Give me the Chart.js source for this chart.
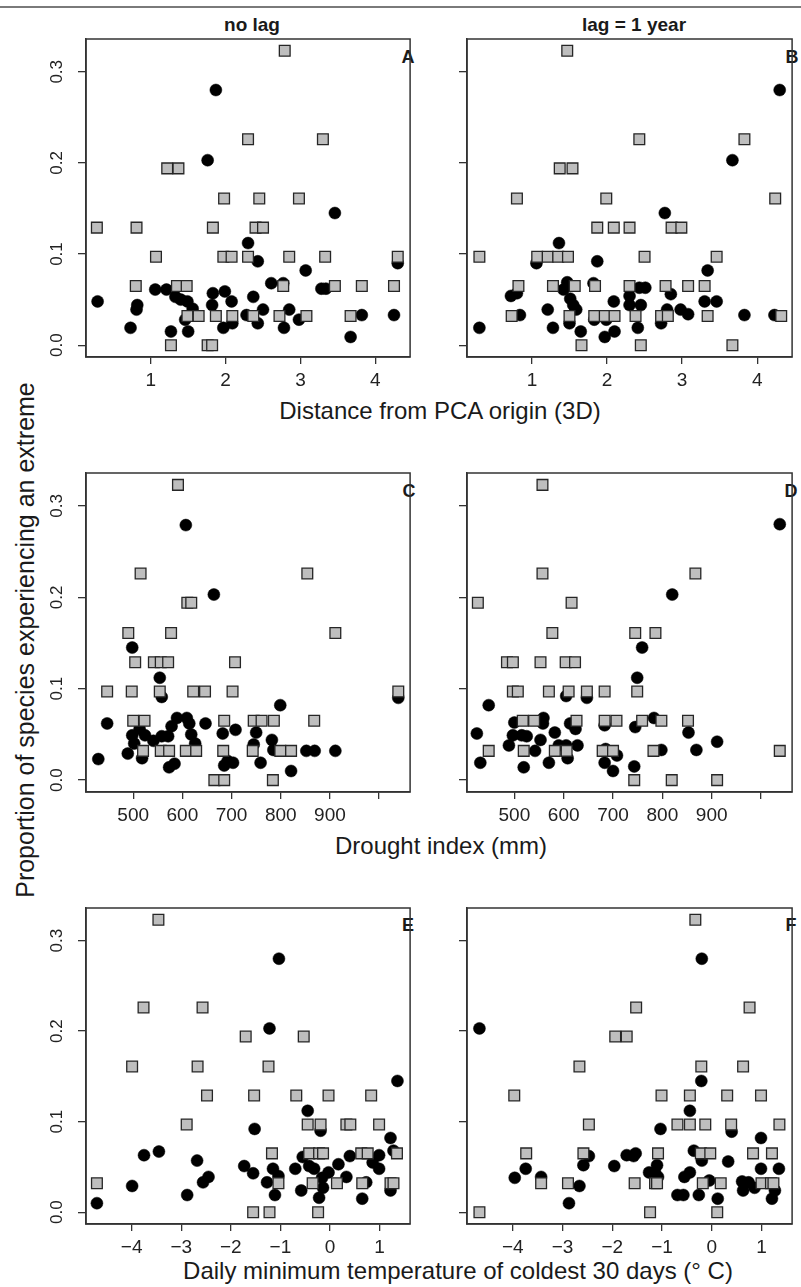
<!DOCTYPE html>
<html>
<head>
<meta charset="utf-8">
<script src="https://cdn.jsdelivr.net/npm/chart.js@4.4.0/dist/chart.umd.min.js"></script>
<style>
  body { margin: 0; background: #fff; width: 801px; height: 1287px; position: relative; overflow: hidden;
         font-family: "Liberation Sans", Arial, sans-serif; color: #1a1a1a; }
  canvas { position: absolute; }
  .t { position: absolute; white-space: nowrap; transform: translate(-50%, -50%); line-height: 1; }
  .b { font-weight: bold; }
  #topline { position: absolute; left: 0; top: 6px; width: 801px; height: 2px; background: #7a7a7a; }
</style>
</head>
<body>
<div id="topline"></div>
<div class="t b" style="left:252px;top:24px;font-size:19px">no lag</div>
<div class="t b" style="left:634px;top:24px;font-size:19px">lag = 1 year</div>
<div class="t b" style="left:408px;top:57px;font-size:18px">A</div>
<div class="t b" style="left:792px;top:57px;font-size:18px">B</div>
<div class="t b" style="left:409px;top:491px;font-size:18px">C</div>
<div class="t b" style="left:791px;top:491px;font-size:18px">D</div>
<div class="t b" style="left:408px;top:925px;font-size:18px">E</div>
<div class="t b" style="left:791px;top:925px;font-size:18px">F</div>
<div class="t" style="left:440px;top:411px;font-size:24px">Distance from PCA origin (3D)</div>
<div class="t" style="left:441px;top:846px;font-size:24px">Drought index (mm)</div>
<div class="t" style="left:458px;top:1271px;font-size:24px">Daily minimum temperature of coldest 30 days (° C)</div>
<div class="t" style="left:25px;top:640px;font-size:25px;transform:translate(-50%,-50%) rotate(-90deg)">Proportion of species experiencing an extreme</div>

<script>
// ---- data: squares (grey) and circles (black) ----
const yTicks = [0, 0.1, 0.2, 0.3];

// A: distance from PCA origin, no lag
const aSqX = [2.79, 2.30, 3.30, 1.22, 1.37, 1.98, 2.45, 2.98, 0.28, 0.81, 1.83, 2.40, 2.50,
  1.07, 1.97, 2.08, 2.30, 2.85, 3.33, 4.30, 0.80, 1.35, 1.48, 2.77, 3.46, 3.82, 4.25,
  1.49, 1.64, 1.87, 2.09, 2.37, 2.72, 3.08, 3.67, 1.27, 1.76, 1.82];
const aSqY = [0.323, 0.226, 0.226, 0.194, 0.194, 0.161, 0.161, 0.161, 0.129, 0.129, 0.129, 0.129, 0.129,
  0.097, 0.097, 0.097, 0.097, 0.097, 0.097, 0.097, 0.065, 0.065, 0.065, 0.065, 0.065, 0.065, 0.065,
  0.032, 0.032, 0.032, 0.032, 0.032, 0.032, 0.032, 0.032, 0, 0, 0];
const aCiX = [1.87, 1.76, 3.46, 2.30, 2.43, 4.30, 3.07, 2.61, 2.77, 1.06, 1.21, 3.28, 3.34, 1.33, 1.40,
  1.49, 1.56, 0.29, 0.82, 0.81, 1.83, 1.82, 1.99, 2.08, 2.37, 2.50, 2.85, 0.73, 1.27, 1.50, 1.46,
  1.97, 2.09, 2.28, 2.43, 2.78, 2.98, 3.67, 3.82, 4.25];
const aCiY = [0.280, 0.203, 0.145, 0.112, 0.092, 0.090, 0.082, 0.068, 0.068, 0.061, 0.061, 0.062, 0.062, 0.053, 0.050,
  0.048, 0.040, 0.048, 0.044, 0.039, 0.057, 0.044, 0.059, 0.048, 0.053, 0.039, 0.039, 0.019, 0.015, 0.015, 0.028,
  0.019, 0.024, 0.033, 0.024, 0.019, 0.028, 0.009, 0.033, 0.033];

// B: distance from PCA origin, lag 1 year
const bSqX = [1.47, 2.43, 3.83, 1.37, 1.54, 0.80, 1.99, 4.24, 1.87, 2.09, 2.30, 2.86, 2.99,
  0.30, 1.07, 1.21, 1.35, 1.48, 2.50, 3.46, 0.82, 1.28, 1.57, 1.84, 2.30, 2.78, 3.08, 3.30,
  0.73, 1.50, 1.83, 1.97, 2.10, 2.38, 2.72, 2.81, 3.34, 4.32, 1.66, 2.45, 3.67];
const bSqY = [0.323, 0.226, 0.226, 0.194, 0.194, 0.161, 0.161, 0.161, 0.129, 0.129, 0.129, 0.129, 0.129,
  0.097, 0.097, 0.097, 0.097, 0.097, 0.097, 0.097, 0.065, 0.065, 0.065, 0.065, 0.065, 0.065, 0.065, 0.065,
  0.032, 0.032, 0.032, 0.032, 0.032, 0.032, 0.032, 0.032, 0.032, 0.032, 0, 0, 0];
const bCiX = [4.30, 3.67, 2.77, 1.36, 1.87, 1.06, 3.34, 1.47, 1.82, 2.43, 2.51, 1.42, 0.72, 0.80, 2.85,
  1.51, 1.55, 2.30, 2.09, 3.30, 3.46, 2.30, 2.45, 1.21, 1.59, 2.80, 2.98, 3.08, 0.84, 3.83, 4.23,
  0.30, 1.28, 1.50, 1.83, 1.99, 2.41, 2.72, 1.65, 1.97, 2.10];
const bCiY = [0.280, 0.203, 0.145, 0.112, 0.092, 0.090, 0.082, 0.069, 0.068, 0.063, 0.063, 0.061, 0.054, 0.057, 0.056,
  0.051, 0.044, 0.054, 0.048, 0.048, 0.048, 0.044, 0.044, 0.039, 0.039, 0.039, 0.039, 0.034, 0.033, 0.033, 0.033,
  0.019, 0.019, 0.024, 0.028, 0.028, 0.019, 0.024, 0.015, 0.009, 0.015];

// C: drought index, no lag
const cSqX = [591, 515, 854, 610, 618, 490, 577, 911, 504, 542, 556, 571, 707,
  447, 497, 554, 622, 646, 702, 1039, 500, 523, 685, 745, 761, 786, 868,
  520, 556, 573, 607, 628, 683, 743, 799, 821, 665, 685, 784];
const cSqY = [0.323, 0.226, 0.226, 0.194, 0.194, 0.161, 0.161, 0.161, 0.129, 0.129, 0.129, 0.129, 0.129,
  0.097, 0.097, 0.097, 0.097, 0.097, 0.097, 0.097, 0.065, 0.065, 0.065, 0.065, 0.065, 0.065, 0.065,
  0.032, 0.032, 0.032, 0.032, 0.032, 0.032, 0.032, 0.032, 0.032, 0, 0, 0];
const cCiX = [607, 664, 498, 554, 558, 1039, 799, 589, 609, 614, 578, 618, 626, 571, 558, 541, 524, 498, 502, 513,
  447, 647, 682, 708, 750, 745, 782, 785, 852, 869, 911, 429, 489, 518, 573, 584, 685, 703, 692, 759, 821];
const cCiY = [0.279, 0.203, 0.145, 0.112, 0.091, 0.090, 0.082, 0.068, 0.068, 0.062, 0.059, 0.050, 0.040, 0.048, 0.048, 0.043, 0.049, 0.049, 0.040, 0.056,
  0.062, 0.062, 0.051, 0.055, 0.052, 0.039, 0.044, 0.033, 0.032, 0.032, 0.032, 0.023, 0.029, 0.024, 0.014, 0.018, 0.016, 0.019, 0.021, 0.019, 0.010];

// D: drought index, lag 1 year
const dSqX = [557, 557, 867, 426, 616, 577, 745, 786, 485, 497, 553, 604, 623,
  497, 507, 570, 610, 647, 683, 749, 517, 540, 626, 683, 707, 759, 798, 852,
  448, 519, 582, 606, 679, 700, 782, 1038, 743, 819, 911];
const dSqY = [0.323, 0.226, 0.226, 0.194, 0.194, 0.161, 0.161, 0.161, 0.129, 0.129, 0.129, 0.129, 0.129,
  0.097, 0.097, 0.097, 0.097, 0.097, 0.097, 0.097, 0.065, 0.065, 0.065, 0.065, 0.065, 0.065, 0.065, 0.065,
  0.032, 0.032, 0.032, 0.032, 0.032, 0.032, 0.032, 0.032, 0, 0, 0];
const dCiX = [1038, 820, 759, 749, 605, 647, 448, 559, 783, 500, 613, 558, 683, 745, 624, 582, 853, 424, 497, 515,
  525, 553, 489, 590, 605, 628, 542, 685, 798, 869, 911, 431, 519, 570, 608, 683, 708, 700, 743];
const dCiY = [0.280, 0.203, 0.145, 0.112, 0.092, 0.090, 0.082, 0.068, 0.068, 0.063, 0.062, 0.062, 0.060, 0.058, 0.056, 0.052, 0.052, 0.051, 0.049, 0.049,
  0.048, 0.044, 0.038, 0.038, 0.038, 0.038, 0.032, 0.034, 0.033, 0.033, 0.042, 0.019, 0.014, 0.019, 0.024, 0.019, 0.027, 0.010, 0.015];

// E: daily minimum temperature, no lag
const eSqX = [-3.46, -3.76, -2.57, -1.70, -0.53, -3.99, -2.67, -1.24, -2.48, -1.53, -0.68, -0.03, 0.83,
  -2.89, -0.45, -0.19, 0.33, 0.41, 0.99, -1.17, -0.42, -0.22, -0.14, 0.63, 0.76, 1.35,
  -4.70, -1.04, -0.35, 0.14, 0.65, 1.22, 1.28, -1.55, -1.22, -0.24];
const eSqY = [0.323, 0.226, 0.226, 0.194, 0.194, 0.161, 0.161, 0.161, 0.129, 0.129, 0.129, 0.129, 0.129,
  0.097, 0.097, 0.097, 0.097, 0.097, 0.097, 0.065, 0.065, 0.065, 0.065, 0.065, 0.065, 0.065,
  0.032, 0.032, 0.032, 0.032, 0.032, 0.032, 0.032, 0, 0, 0];
const eCiX = [-1.03, -1.22, 1.36, -0.45, -1.52, -0.19, 1.22, -3.45, -3.75, 1.28, -0.55, 0.40, 0.99, -2.68, 0.17, 0.86,
  -1.73, -1.15, -0.42, -0.32, 0.99, -0.70, -1.55, -0.03, -2.45, -2.56, 0.33, -1.04, -0.16, -3.99, -1.27, 0.73,
  -2.88, -0.58, -0.14, 1.22, -1.11, -0.22, 0.65, -4.70];
const eCiY = [0.280, 0.203, 0.145, 0.112, 0.092, 0.090, 0.082, 0.067, 0.063, 0.068, 0.061, 0.062, 0.063, 0.057, 0.053, 0.055,
  0.051, 0.048, 0.051, 0.048, 0.048, 0.048, 0.043, 0.044, 0.039, 0.033, 0.039, 0.040, 0.038, 0.029, 0.033, 0.033,
  0.019, 0.024, 0.027, 0.024, 0.019, 0.016, 0.015, 0.010];

// F: daily minimum temperature, lag 1 year
const fSqX = [-0.33, -1.52, 0.76, -1.94, -1.71, -2.66, -0.21, 0.63, -3.97, -1.01, -0.44, 0.31, 0.99,
  -2.47, -0.69, -0.44, -0.13, 0.39, 1.36, -3.73, -2.58, -1.08, -0.22, -0.03, 0.83, 1.21,
  -3.43, -2.89, -1.55, -1.14, -1.10, -0.18, 0.18, 1.00, 1.19, 1.24, -4.67, -1.24, 0.11];
const fSqY = [0.323, 0.226, 0.226, 0.194, 0.194, 0.161, 0.161, 0.161, 0.129, 0.129, 0.129, 0.129, 0.129,
  0.097, 0.097, 0.097, 0.097, 0.097, 0.097, 0.065, 0.065, 0.065, 0.065, 0.065, 0.065, 0.065,
  0.032, 0.032, 0.032, 0.032, 0.032, 0.032, 0.032, 0.032, 0.032, 0.032, 0, 0, 0];
const fCiX = [-0.20, -4.67, -0.21, -0.44, -1.03, 0.40, 0.99, -1.53, -1.71, -1.57, -2.47, -0.36, -0.20, 0.33, -2.58, -1.10,
  -1.96, -3.74, 0.99, 1.35, -1.26, -1.14, -0.44, -3.96, -3.43, -1.08, -0.55, -0.05, 0.61, 0.74, -2.66, 0.63,
  0.86, 1.27, -2.87, -0.69, -0.57, -0.26, 0.12, 1.21];
const fCiY = [0.280, 0.203, 0.145, 0.112, 0.092, 0.089, 0.082, 0.065, 0.063, 0.062, 0.062, 0.068, 0.057, 0.056, 0.052, 0.052,
  0.051, 0.048, 0.048, 0.048, 0.044, 0.044, 0.044, 0.038, 0.039, 0.039, 0.039, 0.035, 0.034, 0.033, 0.029, 0.024,
  0.027, 0.024, 0.010, 0.019, 0.019, 0.019, 0.015, 0.015];

const distTicks = [1, 2, 3, 4];
const droughtTicks = [500, 600, 700, 800, 900, 1000];
const tempTicks = [-4, -3, -2, -1, 0, 1];

const FONT = "'Liberation Sans', Arial, sans-serif";
const AXIS_W = 70, AXIS_H = 45, PAD_T = 10;

const toPts = (xs, ys) => xs.map((x, i) => ({ x: x, y: ys[i] }));

// draws the closed R-style box round the plot region
const boxPlugin = {
  id: "box",
  afterDraw(chart) {
    const { ctx, chartArea: a } = chart;
    ctx.save();
    ctx.strokeStyle = "#333";
    ctx.lineWidth = 1.5;
    ctx.strokeRect(a.left, a.top, a.right - a.left, a.bottom - a.top);
    ctx.restore();
  },
};

const xLabel = (v) => {
  if (v === 1000) return "";
  return v < 0 ? "\u2212" + Math.abs(v) : String(v);
};

const makePanel = (p) => {
  const canvas = document.createElement("canvas");
  const w = p.right - p.left + AXIS_W + 1;
  const h = p.bottom - p.top + PAD_T + AXIS_H;
  canvas.width = w;
  canvas.height = h;
  canvas.style.left = p.left - AXIS_W + "px";
  canvas.style.top = p.top - PAD_T + "px";
  canvas.style.width = w + "px";
  canvas.style.height = h + "px";
  document.body.appendChild(canvas);

  new Chart(canvas.getContext("2d"), {
    type: "scatter",
    data: {
      datasets: [
        {
          data: toPts(p.sqX, p.sqY),
          pointStyle: "rect",
          pointRadius: 7.6,
          backgroundColor: "#bebebe",
          borderColor: "#262626",
          borderWidth: 1.3,
          clip: false,
        },
        {
          data: toPts(p.ciX, p.ciY),
          pointStyle: "circle",
          pointRadius: 6,
          backgroundColor: "#000",
          borderColor: "#000",
          borderWidth: 0.5,
          clip: false,
        },
      ],
    },
    options: {
      responsive: false,
      animation: false,
      events: [],
      layout: { padding: { left: 0, right: 1, top: PAD_T, bottom: 0 } },
      plugins: { legend: { display: false }, tooltip: { enabled: false } },
      scales: {
        x: {
          type: "linear",
          min: p.xMin,
          max: p.xMax,
          afterBuildTicks: (s) => { s.ticks = p.xTicks.map((v) => ({ value: v })); },
          afterFit: (s) => { s.height = AXIS_H; s.paddingLeft = 0; s.paddingRight = 0; },
          grid: { drawOnChartArea: false, drawTicks: true, tickLength: 7, tickColor: "#333", lineWidth: 1.3 },
          border: { display: true, color: "#333", width: 1.5 },
          ticks: {
            autoSkip: false, maxRotation: 0, padding: 5, color: "#222",
            font: { family: FONT, size: 19 },
            callback: (v) => xLabel(v),
          },
        },
        y: {
          type: "linear",
          min: -0.013,
          max: 0.336,
          afterBuildTicks: (s) => { s.ticks = yTicks.map((v) => ({ value: v })); },
          afterFit: (s) => { s.width = AXIS_W; s.paddingTop = 0; s.paddingBottom = 0; },
          grid: { drawOnChartArea: false, drawTicks: true, tickLength: 8, tickColor: "#333", lineWidth: 1.3 },
          border: { display: true, color: "#333", width: 1.5 },
          ticks: {
            autoSkip: false, minRotation: 90, maxRotation: 90, crossAlign: "center", padding: 9, color: "#222",
            font: { family: FONT, size: 17 },
            callback: (v) => (p.yLabels ? v.toFixed(1) : ""),
          },
        },
      },
    },
    plugins: [boxPlugin],
  });
};

const L1 = 86, R1 = 418, L2 = 467, R2 = 800;
const distRange = [0.135, 4.465], droughtRange = [404, 1063], tempRange = [-4.92, 1.615];

makePanel({ left: L1, right: R1, top: 39, bottom: 357, xMin: distRange[0], xMax: distRange[1], xTicks: distTicks, yLabels: true, sqX: aSqX, sqY: aSqY, ciX: aCiX, ciY: aCiY });
makePanel({ left: L2, right: R2, top: 39, bottom: 357, xMin: distRange[0], xMax: distRange[1], xTicks: distTicks, yLabels: false, sqX: bSqX, sqY: bSqY, ciX: bCiX, ciY: bCiY });
makePanel({ left: L1, right: R1, top: 473, bottom: 792, xMin: droughtRange[0], xMax: droughtRange[1], xTicks: droughtTicks, yLabels: true, sqX: cSqX, sqY: cSqY, ciX: cCiX, ciY: cCiY });
makePanel({ left: L2, right: R2, top: 473, bottom: 792, xMin: droughtRange[0], xMax: droughtRange[1], xTicks: droughtTicks, yLabels: false, sqX: dSqX, sqY: dSqY, ciX: dCiX, ciY: dCiY });
makePanel({ left: L1, right: R1, top: 908, bottom: 1224, xMin: tempRange[0], xMax: tempRange[1], xTicks: tempTicks, yLabels: true, sqX: eSqX, sqY: eSqY, ciX: eCiX, ciY: eCiY });
makePanel({ left: L2, right: R2, top: 908, bottom: 1224, xMin: tempRange[0], xMax: tempRange[1], xTicks: tempTicks, yLabels: false, sqX: fSqX, sqY: fSqY, ciX: fCiX, ciY: fCiY });
</script>
</body>
</html>
